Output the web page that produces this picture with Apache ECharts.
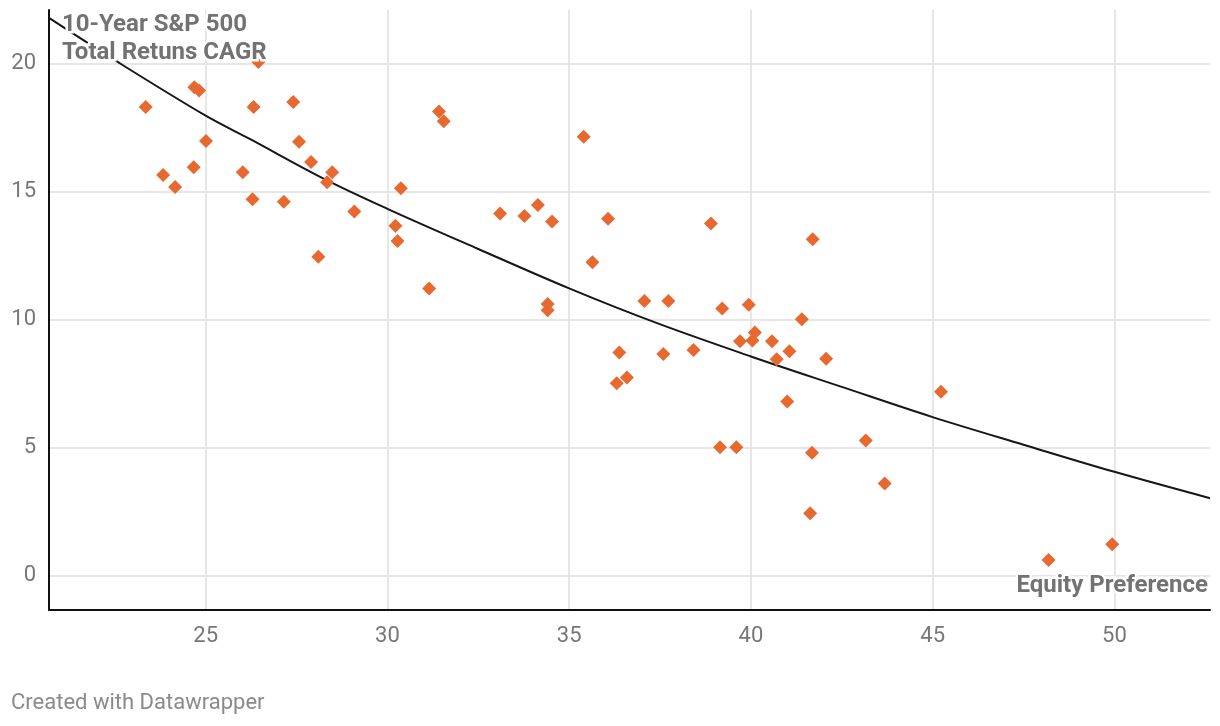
<!DOCTYPE html>
<html><head><meta charset="utf-8">
<script src="https://cdn.jsdelivr.net/npm/echarts@6/dist/echarts.min.js"></script>
<style>html,body{margin:0;padding:0;background:#fff}#c{width:1220px;height:726px}</style>
</head><body><div id="c"></div>
<script>
// Equity preference (x) and 10-year S&P 500 total return CAGR (y)
const equityPreference = [23.35,24.69,24.82,26.32,27.41,25.01,27.57,27.90,31.42,31.55,
  23.83,24.16,24.67,26.02,28.48,28.34,30.37,26.29,27.15,29.09,
  30.22,30.28,28.10,31.15,33.10,33.77,34.14,34.53,35.40,36.07,
  35.64,34.41,34.41,37.07,37.73,36.38,37.59,38.42,36.31,36.59,
  38.90,39.21,39.94,39.70,40.04,40.11,40.58,40.71,41.06,41.40,
  42.07,41.70,41.00,39.15,39.60,41.68,41.63,43.16,43.68,45.23,
  48.19,49.94,26.45];
const sp500Cagr = [18.32,19.09,18.96,18.32,18.51,16.99,16.96,16.17,18.14,17.76,
  15.66,15.19,15.96,15.77,15.77,15.38,15.14,14.71,14.62,14.23,
  13.68,13.08,12.47,11.23,14.16,14.06,14.49,13.84,17.16,13.95,
  12.25,10.62,10.38,10.74,10.74,8.72,8.67,8.82,7.52,7.75,
  13.77,10.44,10.59,9.16,9.19,9.51,9.16,8.46,8.77,10.02,
  8.48,13.15,6.81,5.02,5.02,4.81,2.44,5.28,3.60,7.19,
  0.61,1.23,20.08];
// Trend line
const trendX = [20.69,22.5,25,26.2,28.3,30,32.5,35,37.4,40,42.5,45,47.5,50,52.63];
const trendY = [21.8,20.15,17.98,17.08,15.48,14.34,12.77,11.23,9.88,8.57,7.38,6.2,5.12,4.06,3.03];
// Ticks and ranges
const xTicks = [25,30,35,40,45,50];
const yTicks = [0,5,10,15,20];
const xRange = [20.69, 52.63];
const yRange = [-1.34, 22.11];
const titleLines = ['10-Year S&P 500', 'Total Retuns CAGR'];
const xName = 'Equity Preference';
const footer = 'Created with Datawrapper';

const chart = echarts.init(document.getElementById('c'), null, {renderer:'canvas'});
const FONT = 'Roboto, "Noto Sans", sans-serif';
const points = equityPreference.map((x,i)=>[x, sp500Cagr[i]]);
const trend = trendX.map((x,i)=>[x, trendY[i]]);

function haloText(text, x, y, align, z){
  return [
    {type:'text', x, y, z, silent:true, style:{text, font:'bold 24px '+FONT, fill:'#fff', stroke:'#fff', lineWidth:5, align, verticalAlign:'middle'}},
    {type:'text', x, y, z:z+1, silent:true, style:{text, font:'bold 24px '+FONT, fill:'#727272', align, verticalAlign:'middle'}}
  ];
}

chart.setOption({
  animation:false,
  backgroundColor:'#fff',
  grid:{left:49, right:10, top:10, bottom:116, containLabel:false},
  xAxis:{type:'value', min:xRange[0], max:xRange[1], z:10,
    axisLine:{show:true, onZero:false, lineStyle:{color:'#111', width:2}},
    axisTick:{show:false}, splitLine:{show:false},
    axisLabel:{customValues:xTicks, fontSize:22, color:'#777', fontFamily:FONT, margin:15}},
  yAxis:{type:'value', min:yRange[0], max:yRange[1], z:10,
    axisLine:{show:true, onZero:false, lineStyle:{color:'#111', width:2}},
    axisTick:{show:false}, splitLine:{show:false},
    axisLabel:{customValues:yTicks, fontSize:22, color:'#777', fontFamily:FONT, margin:13}},
  series:[
    {type:'scatter', data:[], z:1, silent:true,
      markLine:{silent:true, z:1, symbol:'none', animation:false, label:{show:false},
        lineStyle:{color:'#e6e6e6', width:2, type:'solid'},
        emphasis:{disabled:true},
        data: xTicks.map(v=>({xAxis:v})).concat(yTicks.map(v=>({yAxis:v})))}},
    {type:'line', data:trend, smooth:0.35, showSymbol:false, z:3, silent:true,
      lineStyle:{color:'#161616', width:2}},
    {type:'scatter', data:points, symbol:'diamond', symbolSize:14, z:4,
      itemStyle:{color:'#e8692f', opacity:1}}
  ],
  graphic:[
    ...haloText(titleLines[0], 62, 25, 'left', 100),
    ...haloText(titleLines[1], 62, 53, 'left', 100),
    ...haloText(xName, 1208, 586, 'right', 100),
    {type:'text', x:11, y:703, silent:true, style:{text:footer, font:'22px '+FONT, fill:'#8a8a8a', verticalAlign:'middle'}}
  ]
});
</script></body></html>
